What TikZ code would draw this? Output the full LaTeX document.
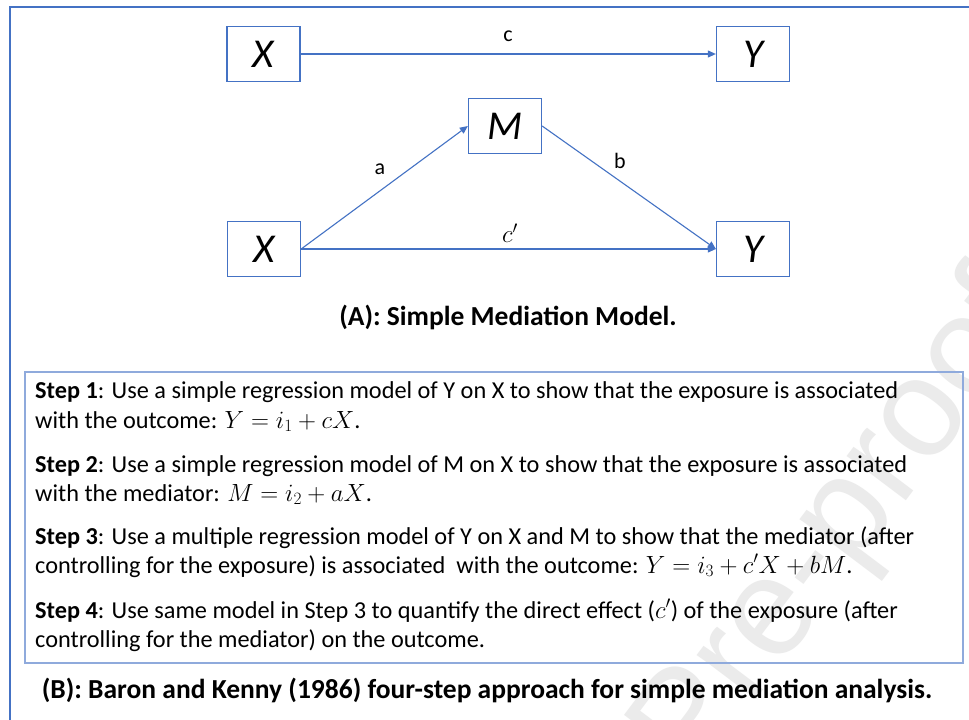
\documentclass[tikz,border=0pt]{standalone}
\usepackage{fontspec}
\setmainfont{Carlito}
\newfontfamily\wmfont{Liberation Sans}
\usetikzlibrary{arrows.meta}
\definecolor{ofblue}{HTML}{4472C4}
\definecolor{lightblue}{HTML}{8FAADC}
\tikzset{
  varbox/.style={draw=ofblue, line width=1.3pt, minimum width=73pt, minimum height=55pt, inner sep=0pt, font=\fontsize{41}{44}\selectfont\itshape},
  conn/.style={draw=ofblue, line width=1.1pt, -{Triangle[length=8pt,width=7pt]}},
  elabel/.style={font=\fontsize{22}{26}\selectfont, inner sep=0pt},
  steptext/.style={anchor=base west, inner sep=0pt, font=\fontsize{24.3}{28}\selectfont},
  captext/.style={anchor=base, inner sep=0pt, font=\fontsize{27.5}{32}\selectfont\bfseries}
}
\begin{document}
\begin{tikzpicture}[x=1pt,y=-1pt]
\useasboundingbox (0,0) rectangle (969,720);
\clip (0,0) rectangle (969,720);
\fill[white] (0,0) rectangle (969,720);
% watermark
\node[rotate=53, anchor=base west, inner sep=0pt, text=black!8, font=\wmfont\fontsize{140}{144}\selectfont] (wm) at (395,1180) {Journal Pre-proof};
% outer frame
\draw[ofblue, line width=2.5pt] (10,730) -- (10,7) -- (980,7);
% nodes
\node[varbox] (X1) at (263.5,54) {X};
\node[varbox] (Y1) at (753,54) {Y};
\node[varbox] (M) at (505,126) {M};
\node[varbox] (X2) at (264,249) {X};
\node[varbox] (Y2) at (753,249) {Y};
% connectors
\draw[conn] (X1.east) -- (Y1.west);
\draw[conn] (X2.east) -- (M.west);
\draw[conn] (M.east) -- (Y2.west);
\draw[conn] (X2.east) -- (Y2.west);
% edge labels
\node[elabel] (lc) at (508,36) {c};
\node[elabel] (la) at (380,169) {a};
\node[elabel] (lb) at (620,161) {b};
\node[elabel, font=\fontsize{24}{28}\selectfont] (lcp) at (510,233) {$c'$};
% caption A
\node[captext] (capA) at (508,325) {(A): Simple Mediation Model.};
% step box
\draw[lightblue, line width=1.3pt] (25,372) rectangle (963,663);
\node[steptext] (s1a) at (35,398) {\textbf{Step 1}: Use a simple regression model of Y on X to show that the exposure is associated};
\node[steptext] (s1b) at (35,428) {with the outcome: $Y = i_1 + cX$.};
\node[steptext] (s2a) at (35,472) {\textbf{Step 2}: Use a simple regression model of M on X to show that the exposure is associated};
\node[steptext] (s2b) at (35,501) {with the mediator: $M = i_2 + aX$.};
\node[steptext] (s3a) at (35,544) {\textbf{Step 3}: Use a multiple regression model of Y on X and M to show that the mediator (after};
\node[steptext] (s3b) at (35,573) {controlling for the exposure) is associated\ \ with the outcome: $Y = i_3 + c'X + bM$.};
\node[steptext] (s4a) at (35,618) {\textbf{Step 4}: Use same model in Step 3 to quantify the direct effect ($c'$) of the exposure (after};
\node[steptext] (s4b) at (35,647) {controlling for the mediator) on the outcome.};
% caption B
\node[captext] (capB) at (487,698) {(B): Baron and Kenny (1986) four-step approach for simple mediation analysis.};
\end{tikzpicture}
\end{document}
